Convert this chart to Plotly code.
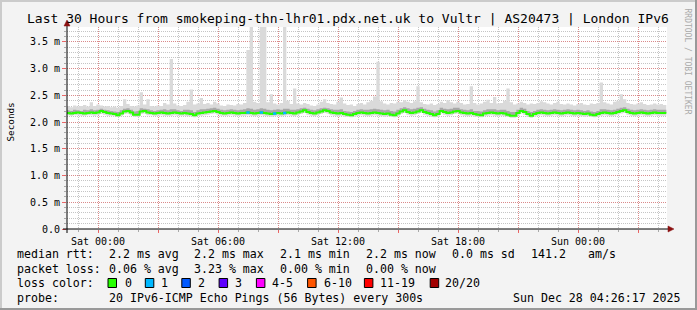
import pandas as pd
import plotly.graph_objects as go

# ---------------- data ----------------
TITLE = "Last 30 Hours from smokeping-thn-lhr01.pdx.net.uk to Vultr | AS20473 | London IPv6"
START = "2025-12-26 22:25"
STEP_MIN = 10
VIEW_RANGE = ["2025-12-26 22:27", "2025-12-28 04:27"]

# median rtt (ms), one value per 10 minutes
median_ms = [
    2.17, 2.16, 2.17, 2.18, 2.17, 2.16, 2.17, 2.18, 2.17, 2.18,
    2.21, 2.19, 2.17, 2.16, 2.15, 2.13, 2.16, 2.20, 2.21, 2.18,
    2.14, 2.14, 2.20, 2.21, 2.18, 2.17, 2.16, 2.17, 2.18, 2.17,
    2.16, 2.17, 2.18, 2.17, 2.16, 2.17, 2.16, 2.15, 2.13, 2.16,
    2.17, 2.18, 2.19, 2.20, 2.21, 2.19, 2.17, 2.16, 2.17, 2.18,
    2.17, 2.16, 2.17, 2.17, 2.18, 2.17, 2.16, 2.17, 2.18, 2.17,
    2.16, 2.15, 2.16, 2.17, 2.16, 2.17, 2.18, 2.17, 2.16, 2.18,
    2.20, 2.22, 2.19, 2.17, 2.16, 2.18, 2.20, 2.22, 2.21, 2.18,
    2.17, 2.16, 2.17, 2.15, 2.14, 2.13, 2.15, 2.17, 2.18, 2.17,
    2.16, 2.17, 2.18, 2.17, 2.16, 2.15, 2.16, 2.14, 2.13, 2.16,
    2.20, 2.22, 2.19, 2.17, 2.18, 2.20, 2.22, 2.19, 2.17, 2.15,
    2.13, 2.15, 2.21, 2.19, 2.17, 2.18, 2.20, 2.21, 2.18, 2.17,
    2.16, 2.17, 2.15, 2.14, 2.13, 2.16, 2.17, 2.18, 2.17, 2.16,
    2.17, 2.16, 2.14, 2.12, 2.12, 2.17, 2.21, 2.19, 2.15, 2.12,
    2.15, 2.17, 2.18, 2.17, 2.16, 2.17, 2.18, 2.17, 2.16, 2.17,
    2.18, 2.17, 2.16, 2.17, 2.16, 2.15, 2.16, 2.14, 2.13, 2.15,
    2.17, 2.18, 2.17, 2.16, 2.17, 2.19, 2.21, 2.22, 2.19, 2.17,
    2.16, 2.17, 2.18, 2.17, 2.16, 2.17, 2.18, 2.17, 2.17, 2.17,
]

# slowest ping of each round (ms)
high_ms = [
    2.30, 2.28, 2.31, 2.29, 2.30, 2.32, 2.29, 2.37, 2.30, 2.33,
    2.31, 2.29, 2.30, 2.28, 2.29, 2.27, 2.30, 2.43, 2.34, 2.30,
    2.29, 2.31, 2.56, 2.33, 2.43, 2.30, 2.29, 2.31, 2.30, 2.36,
    2.33, 3.18, 2.35, 2.31, 2.30, 2.32, 2.38, 2.61, 2.33, 2.35,
    2.45, 2.34, 2.36, 2.33, 2.38, 2.35, 2.31, 2.30, 2.33, 2.32,
    2.31, 2.34, 2.33, 2.36, 3.35, 3.90, 2.38, 2.36, 3.90, 3.90,
    2.37, 2.52, 2.35, 2.33, 2.36, 3.90, 2.40, 2.34, 2.63, 2.35,
    2.33, 2.36, 2.34, 2.31, 2.30, 2.33, 2.38, 2.43, 2.36, 2.34,
    2.33, 2.38, 2.46, 2.35, 2.32, 2.33, 2.30, 2.34, 2.36, 2.33,
    2.37, 2.40, 2.48, 3.13, 2.39, 2.35, 2.33, 2.36, 2.35, 2.38,
    2.37, 2.41, 2.38, 2.36, 2.39, 2.67, 2.37, 2.34, 2.33, 2.35,
    2.32, 2.34, 2.38, 2.36, 2.41, 2.37, 2.35, 2.38, 2.36, 2.33,
    2.34, 2.67, 2.36, 2.33, 2.35, 2.38, 2.42, 2.36, 2.47, 2.35,
    2.36, 2.40, 2.63, 2.37, 2.33, 2.35, 2.38, 2.36, 2.33, 2.35,
    2.34, 2.36, 2.39, 2.37, 2.35, 2.33, 2.36, 2.38, 2.34, 2.33,
    2.35, 2.33, 2.31, 2.34, 2.36, 2.33, 2.32, 2.35, 2.34, 2.36,
    2.74, 2.37, 2.35, 2.33, 2.38, 2.40, 2.52, 2.43, 2.36, 2.34,
    2.33, 2.35, 2.37, 2.34, 2.32, 2.33, 2.35, 2.33, 2.34, 2.32,
]

# upper edge of the dense part of the smoke (ms)
upper_ms = [
    2.22, 2.21, 2.23, 2.22, 2.21, 2.23, 2.22, 2.24, 2.22, 2.23,
    2.25, 2.23, 2.22, 2.21, 2.20, 2.19, 2.22, 2.25, 2.26, 2.23,
    2.20, 2.21, 2.26, 2.25, 2.24, 2.22, 2.21, 2.22, 2.23, 2.24,
    2.22, 2.24, 2.24, 2.22, 2.21, 2.23, 2.23, 2.22, 2.19, 2.22,
    2.24, 2.24, 2.25, 2.26, 2.27, 2.25, 2.23, 2.22, 2.23, 2.24,
    2.23, 2.22, 2.23, 2.24, 2.26, 2.25, 2.23, 2.24, 2.26, 2.25,
    2.23, 2.22, 2.23, 2.24, 2.23, 2.25, 2.25, 2.23, 2.23, 2.24,
    2.26, 2.27, 2.25, 2.23, 2.22, 2.24, 2.26, 2.27, 2.26, 2.24,
    2.23, 2.23, 2.24, 2.21, 2.20, 2.19, 2.21, 2.23, 2.24, 2.23,
    2.23, 2.24, 2.25, 2.24, 2.23, 2.22, 2.23, 2.21, 2.20, 2.23,
    2.26, 2.28, 2.26, 2.24, 2.25, 2.27, 2.28, 2.25, 2.23, 2.22,
    2.20, 2.22, 2.27, 2.25, 2.24, 2.25, 2.27, 2.27, 2.24, 2.23,
    2.22, 2.24, 2.21, 2.21, 2.20, 2.22, 2.24, 2.24, 2.24, 2.22,
    2.23, 2.23, 2.21, 2.19, 2.19, 2.23, 2.27, 2.25, 2.21, 2.19,
    2.21, 2.23, 2.24, 2.23, 2.22, 2.23, 2.24, 2.23, 2.22, 2.23,
    2.24, 2.23, 2.22, 2.23, 2.22, 2.21, 2.22, 2.20, 2.19, 2.21,
    2.24, 2.24, 2.23, 2.22, 2.23, 2.25, 2.27, 2.28, 2.25, 2.23,
    2.22, 2.23, 2.24, 2.23, 2.22, 2.23, 2.24, 2.23, 2.23, 2.23,
]

# fastest ping of each round (ms)
low_ms = [
    2.13, 2.12, 2.13, 2.13, 2.12, 2.12, 2.13, 2.13, 2.12, 2.13,
    2.15, 2.14, 2.12, 2.12, 2.11, 2.10, 2.12, 2.15, 2.16, 2.13,
    2.10, 2.10, 2.15, 2.16, 2.13, 2.13, 2.12, 2.12, 2.13, 2.12,
    2.12, 2.12, 2.13, 2.12, 2.12, 2.12, 2.11, 2.11, 2.09, 2.12,
    2.12, 2.13, 2.14, 2.15, 2.16, 2.14, 2.12, 2.12, 2.12, 2.13,
    2.12, 2.12, 2.12, 2.12, 2.13, 2.12, 2.11, 2.12, 2.13, 2.12,
    2.11, 2.10, 2.11, 2.12, 2.11, 2.12, 2.13, 2.12, 2.11, 2.13,
    2.15, 2.17, 2.14, 2.12, 2.11, 2.13, 2.15, 2.17, 2.16, 2.13,
    2.12, 2.11, 2.12, 2.10, 2.10, 2.09, 2.10, 2.12, 2.13, 2.12,
    2.11, 2.12, 2.13, 2.12, 2.11, 2.10, 2.11, 2.10, 2.09, 2.11,
    2.15, 2.17, 2.14, 2.12, 2.13, 2.15, 2.17, 2.14, 2.12, 2.10,
    2.09, 2.10, 2.16, 2.14, 2.12, 2.13, 2.15, 2.16, 2.13, 2.12,
    2.11, 2.12, 2.10, 2.10, 2.09, 2.11, 2.12, 2.13, 2.12, 2.11,
    2.12, 2.11, 2.10, 2.08, 2.08, 2.12, 2.16, 2.14, 2.10, 2.08,
    2.10, 2.12, 2.13, 2.12, 2.11, 2.12, 2.13, 2.12, 2.11, 2.12,
    2.13, 2.12, 2.11, 2.12, 2.11, 2.10, 2.11, 2.10, 2.09, 2.10,
    2.12, 2.13, 2.12, 2.11, 2.12, 2.14, 2.16, 2.17, 2.14, 2.12,
    2.11, 2.12, 2.13, 2.12, 2.11, 2.12, 2.13, 2.12, 2.12, 2.12,
]

# lost pings per round (out of 20)
loss_count = [0] * 180
for _i in (54, 58, 62, 65):
    loss_count[_i] = 1

loss_labels = ["0", "1", "2", "3", "4-5", "6-10", "11-19", "20/20"]
loss_colors = ["#26ff00", "#00b8ff", "#0059ff", "#5e00ff", "#ff00ff", "#ff5500", "#ff0000", "#a10000"]
loss_upper = [0, 1, 2, 3, 5, 10, 19, 20]

y_tick_vals = [0.0, 0.5, 1.0, 1.5, 2.0, 2.5, 3.0, 3.5]
y_tick_text = ["0.0", "0.5 m", "1.0 m", "1.5 m", "2.0 m", "2.5 m", "3.0 m", "3.5 m"]
Y_MAX = 3.78

x_tick_vals = ["2025-12-27 00:00", "2025-12-27 03:00", "2025-12-27 06:00", "2025-12-27 09:00",
               "2025-12-27 12:00", "2025-12-27 15:00", "2025-12-27 18:00", "2025-12-27 21:00",
               "2025-12-28 00:00", "2025-12-28 03:00"]
x_tick_text = ["Sat 00:00", "", "Sat 06:00", "", "Sat 12:00", "", "Sat 18:00", "", "Sun 00:00", ""]

legend_rows = [
    [("median rtt:", 16), ("2.2 ms avg", 107.6), ("2.2 ms max", 192.9), ("2.1 ms min", 279.1),
     ("2.2 ms now", 365.3), ("0.0 ms sd", 451.1), ("141.2", 530.2), ("am/s", 586.7)],
    [("packet loss:", 16), ("0.06 % avg", 107.6), ("3.23 % max", 192.9), ("0.00 % min", 279.1),
     ("0.00 % now", 365.3)],
    [("loss color:", 16)],
    [("probe:", 16), ("20 IPv6-ICMP Echo Pings (56 Bytes) every 300s", 107.6),
     ("Sun Dec 28 04:26:17 2025", 512.4)],
]
legend_row_y = [254.5, 269, 283, 297.5]
loss_box_x = [108, 145.3, 181.8, 219.1, 256.4, 307.6, 364.4, 430.2]
loss_text_x = [123.6, 160, 196.9, 234.2, 271.1, 322.7, 379.1, 444.4]

# ---------------- geometry helpers ----------------
W, H = 697, 310
PL, PR, PT, PB = 67, 667, 27, 229
MONO = "DejaVu Sans Mono"


def px(x):
    return (x - PL) / (PR - PL)


def py(y):
    return (PB - y) / (PB - PT)


times = list(pd.date_range(START, periods=len(median_ms), freq=f"{STEP_MIN}min"))
t_edges = times + [times[-1] + pd.Timedelta(minutes=STEP_MIN)]


def ext(v):
    return list(v) + [v[-1]]


fig = go.Figure()

# smoke: full spread
fig.add_trace(go.Scatter(x=t_edges, y=ext(low_ms), mode="lines",
                         line=dict(width=0, shape="hv"), hoverinfo="skip", showlegend=False))
fig.add_trace(go.Scatter(x=t_edges, y=ext(high_ms), mode="lines", fill="tonexty",
                         fillcolor="#dadada", line=dict(width=0, shape="hv"),
                         hoverinfo="skip", showlegend=False))
# smoke: dense part
fig.add_trace(go.Scatter(x=t_edges, y=ext(median_ms), mode="lines",
                         line=dict(width=0, shape="hv"), hoverinfo="skip", showlegend=False))
fig.add_trace(go.Scatter(x=t_edges, y=ext(upper_ms), mode="lines", fill="tonexty",
                         fillcolor="#a8a8a8", line=dict(width=0, shape="hv"),
                         hoverinfo="skip", showlegend=False))
# median line (loss 0 colour)
fig.add_trace(go.Scatter(x=t_edges, y=ext(median_ms), mode="lines",
                         line=dict(width=2, shape="hv", color=loss_colors[0]),
                         hoverinfo="skip", showlegend=False))


def loss_color(n):
    for lim, col in zip(loss_upper, loss_colors):
        if n <= lim:
            return col
    return loss_colors[-1]


seg = {}
for i, n in enumerate(loss_count):
    if n > 0:
        c = loss_color(n)
        xs, ys = seg.setdefault(c, ([], []))
        xs += [t_edges[i], t_edges[i + 1], None]
        ys += [median_ms[i], median_ms[i], None]
for c, (xs, ys) in seg.items():
    fig.add_trace(go.Scatter(x=xs, y=ys, mode="lines", line=dict(width=2.5, color=c),
                             hoverinfo="skip", showlegend=False))

MGRID = "rgba(235,90,90,0.55)"
GRID = "rgba(150,150,150,0.55)"

fig.update_layout(
    width=W, height=H, autosize=False,
    margin=dict(l=PL, r=W - PR, t=PT, b=H - PB, pad=0),
    paper_bgcolor="#f3f3f3", plot_bgcolor="#ffffff",
    font=dict(family=MONO, size=10, color="#000000"),
    xaxis=dict(
        type="date", range=VIEW_RANGE, tickmode="array",
        tickvals=x_tick_vals, ticktext=x_tick_text,
        showgrid=True, gridcolor=MGRID, griddash="1px,1px", gridwidth=1,
        ticks="outside", ticklen=3, tickcolor="rgba(235,90,90,0.9)",
        tickfont=dict(family=MONO, size=10, color="#000000"),
        showline=False, zeroline=False,
        minor=dict(dtick=3600000, tick0="2025-12-27 00:00", showgrid=True,
                   gridcolor=GRID, griddash="1px,1px", ticks="outside",
                   ticklen=2, tickcolor="rgba(150,150,150,0.8)"),
    ),
    yaxis=dict(
        range=[0, Y_MAX], tickmode="array", tickvals=y_tick_vals, ticktext=y_tick_text,
        showgrid=True, gridcolor=MGRID, griddash="1px,1px", gridwidth=1,
        ticks="outside", ticklen=4, tickcolor="rgba(235,90,90,0.9)",
        tickfont=dict(family=MONO, size=10, color="#000000"),
        showline=False, zeroline=False,
        minor=dict(dtick=0.1, tick0=0, showgrid=True, gridcolor=GRID,
                   griddash="1px,1px", ticks="outside", ticklen=2,
                   tickcolor="rgba(150,150,150,0.8)"),
    ),
)

shapes = []
# frame shading
shapes.append(dict(type="rect", xref="paper", yref="paper", x0=px(0), x1=px(697), y0=py(0), y1=py(2),
                   fillcolor="#cbcbcb", line=dict(width=0), layer="above"))
shapes.append(dict(type="rect", xref="paper", yref="paper", x0=px(0), x1=px(2), y0=py(0), y1=py(310),
                   fillcolor="#cbcbcb", line=dict(width=0), layer="above"))
shapes.append(dict(type="rect", xref="paper", yref="paper", x0=px(695), x1=px(697), y0=py(0), y1=py(310),
                   fillcolor="#999999", line=dict(width=0), layer="above"))
shapes.append(dict(type="rect", xref="paper", yref="paper", x0=px(0), x1=px(697), y0=py(308), y1=py(310),
                   fillcolor="#999999", line=dict(width=0), layer="above"))
# axes
shapes.append(dict(type="line", xref="paper", yref="paper", x0=px(63), x1=px(670), y0=py(229), y1=py(229),
                   line=dict(color="#000000", width=1), layer="above"))
shapes.append(dict(type="line", xref="paper", yref="paper", x0=px(67), x1=px(67), y0=py(233), y1=py(24),
                   line=dict(color="#000000", width=1), layer="above"))
# arrows
shapes.append(dict(type="path", xref="paper", yref="paper",
                   path=f"M {px(64)} {py(26)} L {px(70)} {py(26)} L {px(67)} {py(20)} Z",
                   fillcolor="#8b1010", line=dict(color="#8b1010", width=0.5), layer="above"))
shapes.append(dict(type="path", xref="paper", yref="paper",
                   path=f"M {px(668)} {py(226)} L {px(668)} {py(232)} L {px(674)} {py(229)} Z",
                   fillcolor="#8b1010", line=dict(color="#8b1010", width=0.5), layer="above"))
# loss colour boxes
for bx, col in zip(loss_box_x, loss_colors):
    shapes.append(dict(type="rect", xref="paper", yref="paper", x0=px(bx), x1=px(bx + 8.5),
                       y0=py(287.5), y1=py(278.5), fillcolor=col,
                       line=dict(color="#000000", width=1), layer="above"))

annotations = []
annotations.append(dict(text=TITLE, xref="paper", yref="paper", x=px(348), y=py(19),
                        xanchor="center", yanchor="middle", showarrow=False, borderpad=0,
                        font=dict(family=MONO, size=13, color="#000000")))
annotations.append(dict(text="Seconds", xref="paper", yref="paper", x=px(10), y=py(122.5),
                        xanchor="center", yanchor="middle", showarrow=False, textangle=-90,
                        borderpad=0, font=dict(family=MONO, size=9.3, color="#000000")))
annotations.append(dict(text="RRDTOOL / TOBI OETIKER", xref="paper", yref="paper", x=px(687.5),
                        y=py(61), xanchor="center", yanchor="middle", showarrow=False,
                        textangle=90, borderpad=0,
                        font=dict(family=MONO, size=8, color="#aaaaaa")))
for row, yy in zip(legend_rows, legend_row_y):
    for txt, xx in row:
        annotations.append(dict(text=txt, xref="paper", yref="paper", x=px(xx), y=py(yy),
                                xanchor="left", yanchor="middle", showarrow=False, borderpad=0,
                                font=dict(family=MONO, size=11.6, color="#000000")))
for lbl, xx in zip(loss_labels, loss_text_x):
    annotations.append(dict(text=lbl, xref="paper", yref="paper", x=px(xx), y=py(legend_row_y[2]),
                            xanchor="left", yanchor="middle", showarrow=False, borderpad=0,
                            font=dict(family=MONO, size=11.6, color="#000000")))

fig.update_layout(shapes=shapes, annotations=annotations)
fig.write_html("out.html")
